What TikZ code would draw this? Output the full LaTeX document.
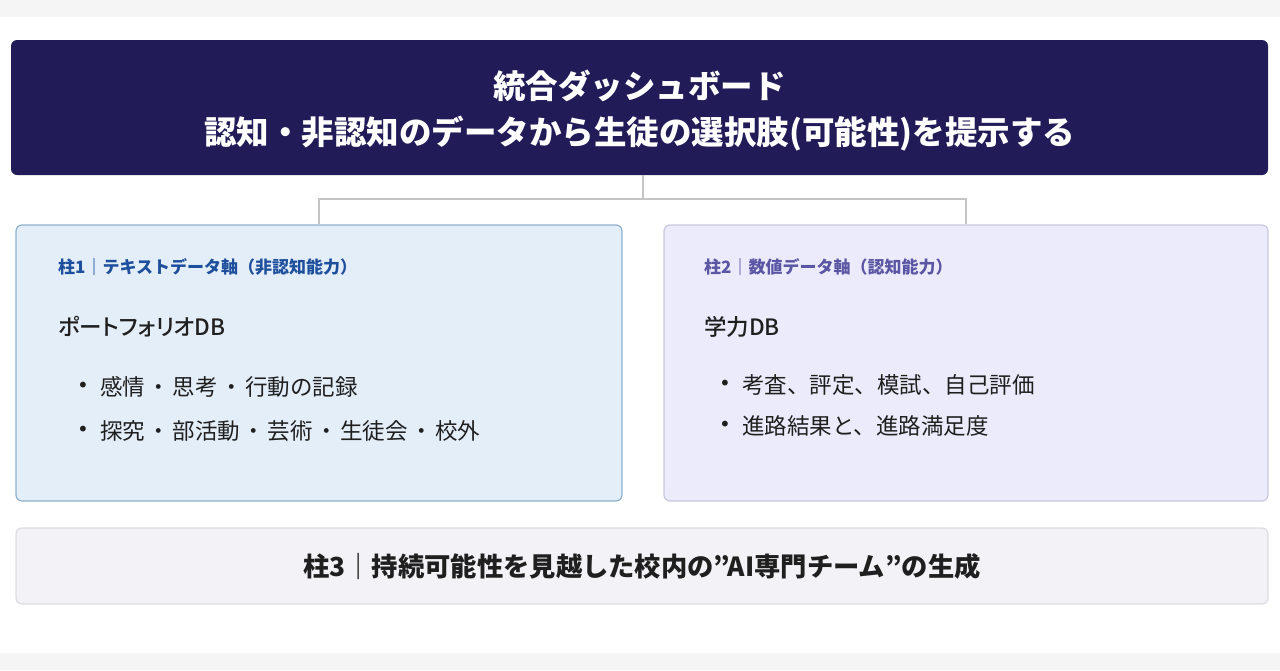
\documentclass[tikz,border=0pt]{standalone}
\usepackage{fontspec}
\setmainfont{Noto Sans CJK JP}
\newfontfamily\medfont[RawFeature=+palt]{Noto Sans CJK JP Medium}
\newfontfamily\dotfont{DejaVu Sans}
\usetikzlibrary{positioning}

\definecolor{navy}{HTML}{211C57}
\definecolor{paleblue}{HTML}{E4EEF9}
\definecolor{edgeblue}{HTML}{8DB1CD}
\definecolor{tagblue}{HTML}{1E4F9C}
\definecolor{palelilac}{HTML}{ECEBFB}
\definecolor{edgelilac}{HTML}{C9C7DF}
\definecolor{taglilac}{HTML}{5B56A3}
\definecolor{palegrey}{HTML}{F3F2F7}
\definecolor{edgegrey}{HTML}{DDDCE2}
\definecolor{linkgrey}{HTML}{C4C4C4}
\definecolor{ink}{HTML}{1F1F1F}
\definecolor{stripgrey}{HTML}{F5F5F5}

\newcommand{\nakasep}{\hspace{2.5pt}・\hspace{2.5pt}}

\tikzset{
  headbox/.style={fill=navy, rounded corners=6pt, minimum width=1257, minimum height=135,
    inner sep=0pt, text=white, align=center, font=\bfseries\fontsize{32.5}{46}\selectfont},
  pillar/.style={rounded corners=6pt, line width=1.2pt, minimum height=276, inner sep=0pt},
  pillarA/.style={pillar, fill=paleblue, draw=edgeblue, minimum width=606},
  pillarB/.style={pillar, fill=palelilac, draw=edgelilac, minimum width=604},
  pillarC/.style={pillar, fill=palegrey, draw=edgegrey, minimum width=1252, minimum height=76,
    text=ink, font=\bfseries\fontsize{26.3}{30}\selectfont},
  tag/.style={anchor=west, inner sep=0pt, font=\bfseries\fontsize{17}{20}\selectfont},
  dbname/.style={anchor=west, inner sep=0pt, text=ink, font=\medfont\fontsize{22.5}{26}\selectfont},
  item/.style={anchor=west, inner sep=0pt, text=ink, font=\fontsize{22.5}{26}\selectfont,
    label={[inner sep=0pt, label distance=11pt, text=ink, font=\dotfont\fontsize{20}{20}\selectfont]left:•}},
  link/.style={draw=linkgrey, line width=1.5pt}
}

\begin{document}
\begin{tikzpicture}[x=1pt,y=-1pt]
  \useasboundingbox (0,0) rectangle (1280,670);
  \fill[stripgrey] (0,0) rectangle (1280,17);
  \fill[stripgrey] (0,653) rectangle (1280,670);

  % dashboard on top
  \node[headbox, text depth=0pt] (head) at (639.5,107.5) {統合ダッシュボード\\認知・非認知のデータから生徒の選択肢(可能性)を提示する};

  % the three pillars
  \node[pillarA] (p1) at (319,363) {};
  \node[pillarB] (p2) at (966,363) {};
  \node[pillarC] (p3) at (642,566) {柱3｜持続可能性を見越した校内の”AI専門チーム”の生成};

  \coordinate (hub) at (643,199);
  \draw[link] (head.south -| hub) -- (hub);
  \draw[link] (p1.north) |- (hub) -| (p2.north);

  % pillar 1
  \node[tag, text=tagblue] (t1) at (58,267) {柱1｜テキストデータ軸（非認知能力）};
  \node[dbname] (db1) at (58,327) {ポートフォリオDB};
  \node[item] (i1a) at (100,387) {感情\nakasep 思考\nakasep 行動の記録};
  \node[item] (i1b) at (100,431) {探究\nakasep 部活動\nakasep 芸術\nakasep 生徒会\nakasep 校外};

  % pillar 2
  \node[tag, text=taglilac] (t2) at (704,267) {柱2｜数値データ軸（認知能力）};
  \node[dbname] (db2) at (704,327) {学力DB};
  \node[item] (i2a) at (742,385) {考査、評定、模試、自己評価};
  \node[item] (i2b) at (742,426) {進路結果と、進路満足度};
\end{tikzpicture}
\end{document}
